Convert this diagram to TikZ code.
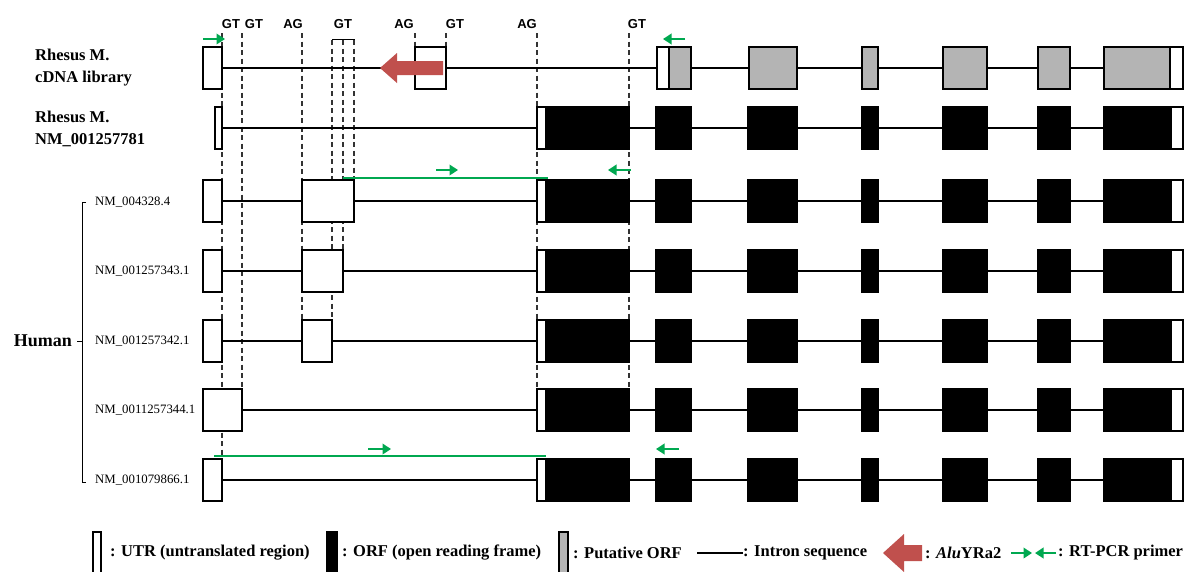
\documentclass[tikz,border=0pt]{standalone}
\usepackage{fontspec}
\setmainfont{Liberation Serif}
\newfontfamily\gtfont{Liberation Sans}
\usetikzlibrary{arrows.meta}
\definecolor{putgray}{RGB}{180,180,180}
\definecolor{primergreen}{RGB}{0,168,80}
\definecolor{alured}{RGB}{192,80,77}
\tikzset{
  utr/.style={draw=black, fill=white, line width=1.4pt},
  orf/.style={draw=black, fill=black, line width=1.4pt},
  porf/.style={draw=black, fill=putgray, line width=1.4pt},
  intron/.style={draw=black, line width=1.3pt},
  spliceline/.style={draw=black!80, line width=1.2pt, dash pattern=on 5pt off 3.5pt},
  primer/.style={draw=primergreen, line width=2.2pt, -{Triangle[length=8.5pt,width=10.5pt]}},
  primerline/.style={draw=primergreen, line width=1.3pt},
  alu/.style={fill=alured, draw=none},
  sitelbl/.style={font=\gtfont\bfseries\fontsize{13}{15}\selectfont, inner sep=0pt},
  rhlbl/.style={font=\bfseries\fontsize{16.5}{22}\selectfont, align=left, anchor=west, inner sep=0pt},
  hulbl/.style={font=\fontsize{12.8}{15}\selectfont, anchor=west, inner sep=0pt},
  leglbl/.style={font=\bfseries\fontsize{16.5}{20}\selectfont, anchor=west, inner sep=0pt},
}
\begin{document}
\begin{tikzpicture}[x=1pt,y=-1pt]
\path[use as bounding box] (0,0) rectangle (1189,571);
\clip (0,0) rectangle (1189,571);
\fill[white] (0,0) rectangle (1189,571);

% splice site labels
\node[sitelbl] (gt1) at (231,24) {GT};
\node[sitelbl] (gt2) at (254,24) {GT};
\node[sitelbl] (ag1) at (293,24) {AG};
\node[sitelbl] (gt3) at (343,24) {GT};
\node[sitelbl] (ag2) at (404,24) {AG};
\node[sitelbl] (gt4) at (455,24) {GT};
\node[sitelbl] (ag3) at (527,24) {AG};
\node[sitelbl] (gt5) at (637,24) {GT};
\draw[line width=0.9pt] (332,42) -- (332,39) -- (354,39) -- (354,42);

% dashed splice lines
\draw[spliceline] (222,33) -- (222,459);
\draw[spliceline] (242,33) -- (242,389);
\draw[spliceline] (302,33) -- (302,320);
\draw[spliceline] (332,40) -- (332,320);
\draw[spliceline] (343,40) -- (343,250);
\draw[spliceline] (354,40) -- (354,180);
\draw[spliceline] (415,33) -- (415,47);
\draw[spliceline] (446,33) -- (446,47);
\draw[spliceline] (537,33) -- (537,389);
\draw[spliceline] (629,33) -- (629,389);

% intron lines
\foreach \yy in {68,128,201,271,341,410,480}
  \draw[intron] (222,\yy) -- (1104,\yy);

% Row 1: Rhesus cDNA library
\draw[utr] (203,47) rectangle (222,89);
\draw[utr] (415,47) rectangle (446,89);
\fill[alu] (380,68) -- (397,53) -- (397,61) -- (443,61) -- (443,75) -- (397,75) -- (397,83) -- cycle;
\draw[utr] (657,47) rectangle (669,89);
\draw[porf] (669,47) rectangle (691,89);
\draw[porf] (749,47) rectangle (797,89);
\draw[porf] (862,47) rectangle (878,89);
\draw[porf] (943,47) rectangle (987,89);
\draw[porf] (1038,47) rectangle (1070,89);
\draw[porf] (1104,47) rectangle (1170,89);
\draw[utr] (1170,47) rectangle (1183,89);
\draw[primer] (203,39) -- (225,39);
\draw[primer] (685,39) -- (663,39);

% common right part rows 2-7
\foreach \yy in {128,201,271,341,410,480}{
  \draw[utr] (537,\yy-21) rectangle (546,\yy+21);
  \draw[orf] (546,\yy-21) rectangle (629,\yy+21);
  \draw[orf] (656,\yy-21) rectangle (691,\yy+21);
  \draw[orf] (748,\yy-21) rectangle (797,\yy+21);
  \draw[orf] (862,\yy-21) rectangle (878,\yy+21);
  \draw[orf] (943,\yy-21) rectangle (987,\yy+21);
  \draw[orf] (1038,\yy-21) rectangle (1070,\yy+21);
  \draw[orf] (1104,\yy-21) rectangle (1171,\yy+21);
  \draw[utr] (1171,\yy-21) rectangle (1183,\yy+21);
}

% left exons
\draw[utr] (215,107) rectangle (222,149);
\draw[utr] (203,180) rectangle (222,222);
\draw[utr] (302,180) rectangle (354,222);
\draw[utr] (203,250) rectangle (222,292);
\draw[utr] (302,250) rectangle (343,292);
\draw[utr] (203,320) rectangle (222,362);
\draw[utr] (302,320) rectangle (332,362);
\draw[utr] (203,389) rectangle (242,431);
\draw[utr] (203,459) rectangle (222,501);

% primers rows 3 and 7
\draw[primerline] (343,178) -- (548,178);
\draw[primer] (436,170) -- (458,170);
\draw[primer] (631,170) -- (608,170);
\draw[primerline] (214,456) -- (546,456);
\draw[primer] (368,449) -- (391,449);
\draw[primer] (679,449) -- (656,449);

% labels
\node[rhlbl] (rh1) at (35,68) {Rhesus M.\\cDNA library};
\node[rhlbl] (rh2) at (35,129) {Rhesus M.\\NM\_001257781};
\node[hulbl] (h1) at (95,202) {NM\_004328.4};
\node[hulbl] (h2) at (95,271) {NM\_001257343.1};
\node[hulbl] (h3) at (95,341) {NM\_001257342.1};
\node[hulbl] (h4) at (95,410) {NM\_0011257344.1};
\node[hulbl] (h5) at (95,480) {NM\_001079866.1};
\node[font=\bfseries\fontsize{18}{20}\selectfont, anchor=east, inner sep=0pt] (hum) at (72,341) {Human};
\draw[line width=1pt] (86,202) -- (82,202) -- (82,482) -- (86,482);
\draw[line width=1pt] (82,341) -- (77,341);

% legend
\draw[utr, line width=1.2pt] (93,532) rectangle (101,585);
\node[leglbl] (l1) at (110,553) {: UTR (untranslated region)};
\draw[orf, line width=1.2pt] (327,532) rectangle (337,585);
\node[leglbl] (l2) at (342,553) {: ORF (open reading frame)};
\draw[porf, line width=1.2pt] (559,532) rectangle (568,585);
\node[leglbl] (l3) at (573,553) {: Putative ORF};
\draw[intron] (697,553) -- (743,553);
\node[leglbl] (l4) at (743,553) {: Intron sequence};
\fill[alu] (883,553) -- (904,534) -- (904,545) -- (922,545) -- (922,561) -- (904,561) -- (904,572) -- cycle;
\node[leglbl] (l5) at (925,553) {: \textit{Alu}YRa2};
\draw[primer] (1011,553) -- (1032,553);
\draw[primer] (1056,553) -- (1035,553);
\node[leglbl] (l6) at (1058,553) {: RT-PCR primer};
\end{tikzpicture}
\end{document}
